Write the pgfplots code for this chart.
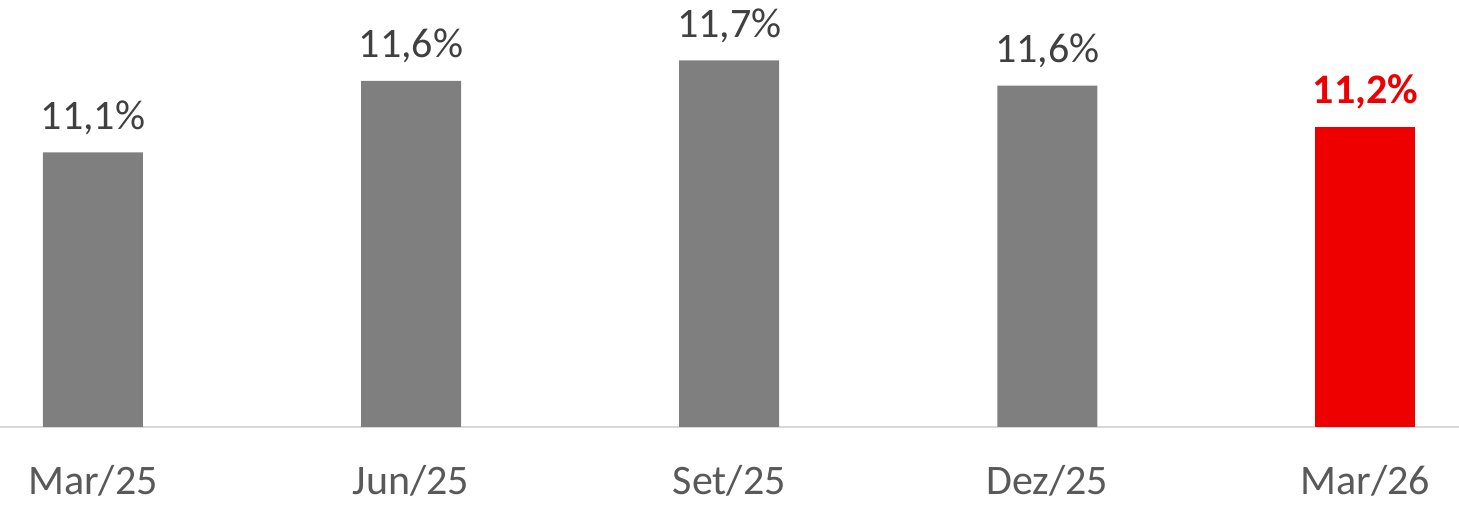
\documentclass[border=0pt]{standalone}
\usepackage{pgfplots}
\pgfplotsset{compat=1.18}
\usepackage{fontspec}
\setmainfont{Carlito}
\definecolor{barg}{HTML}{7F7F7F}
\definecolor{redb}{HTML}{EE0000}
\definecolor{lblg}{HTML}{404040}
\definecolor{tickg}{HTML}{595959}
\definecolor{lineg}{HTML}{D9D9D9}
\begin{document}
\begin{tikzpicture}
\begin{axis}[name=ax, scale only axis, width=729.5pt, height=213.5pt,
  xmin=-0.292, xmax=4.294, ymin=9.35, ymax=12.04,
  axis x line*=bottom, axis y line=none, ytick=\empty,
  x axis line style={draw=lineg, line width=1pt, -},
  xtick={0,1,2,3,4}, xticklabels={Mar/25,Jun/25,Set/25,Dez/25,Mar/26},
  major tick length=0pt,
  xticklabel style={font=\fontsize{21}{25}\selectfont, text=tickg, anchor=base, yshift=-34pt, inner sep=0pt},
  ybar, bar width=50pt, bar shift=0pt, clip=false,
  nodes near coords, point meta=explicit symbolic,
  every node near coord/.append style={anchor=base, yshift=11.5pt, inner sep=0pt, font=\fontsize{21}{25}\selectfont},
]
\addplot[fill=barg, draw=none, every node near coord/.append style={text=lblg}] coordinates {
  (0,11.08) [11,1\%]
  (1,11.53) [11,6\%]
  (2,11.66) [11,7\%]
  (3,11.50) [11,6\%]
};
\addplot[fill=redb, draw=none, every node near coord/.append style={text=redb, font=\fontsize{21}{25}\selectfont\bfseries}] coordinates {
  (4,11.24) [11,2\%]
};
\end{axis}
\pgfresetboundingbox
\path[use as bounding box] ([yshift=-40pt]ax.south west) rectangle (ax.north east);
\end{tikzpicture}
\end{document}
